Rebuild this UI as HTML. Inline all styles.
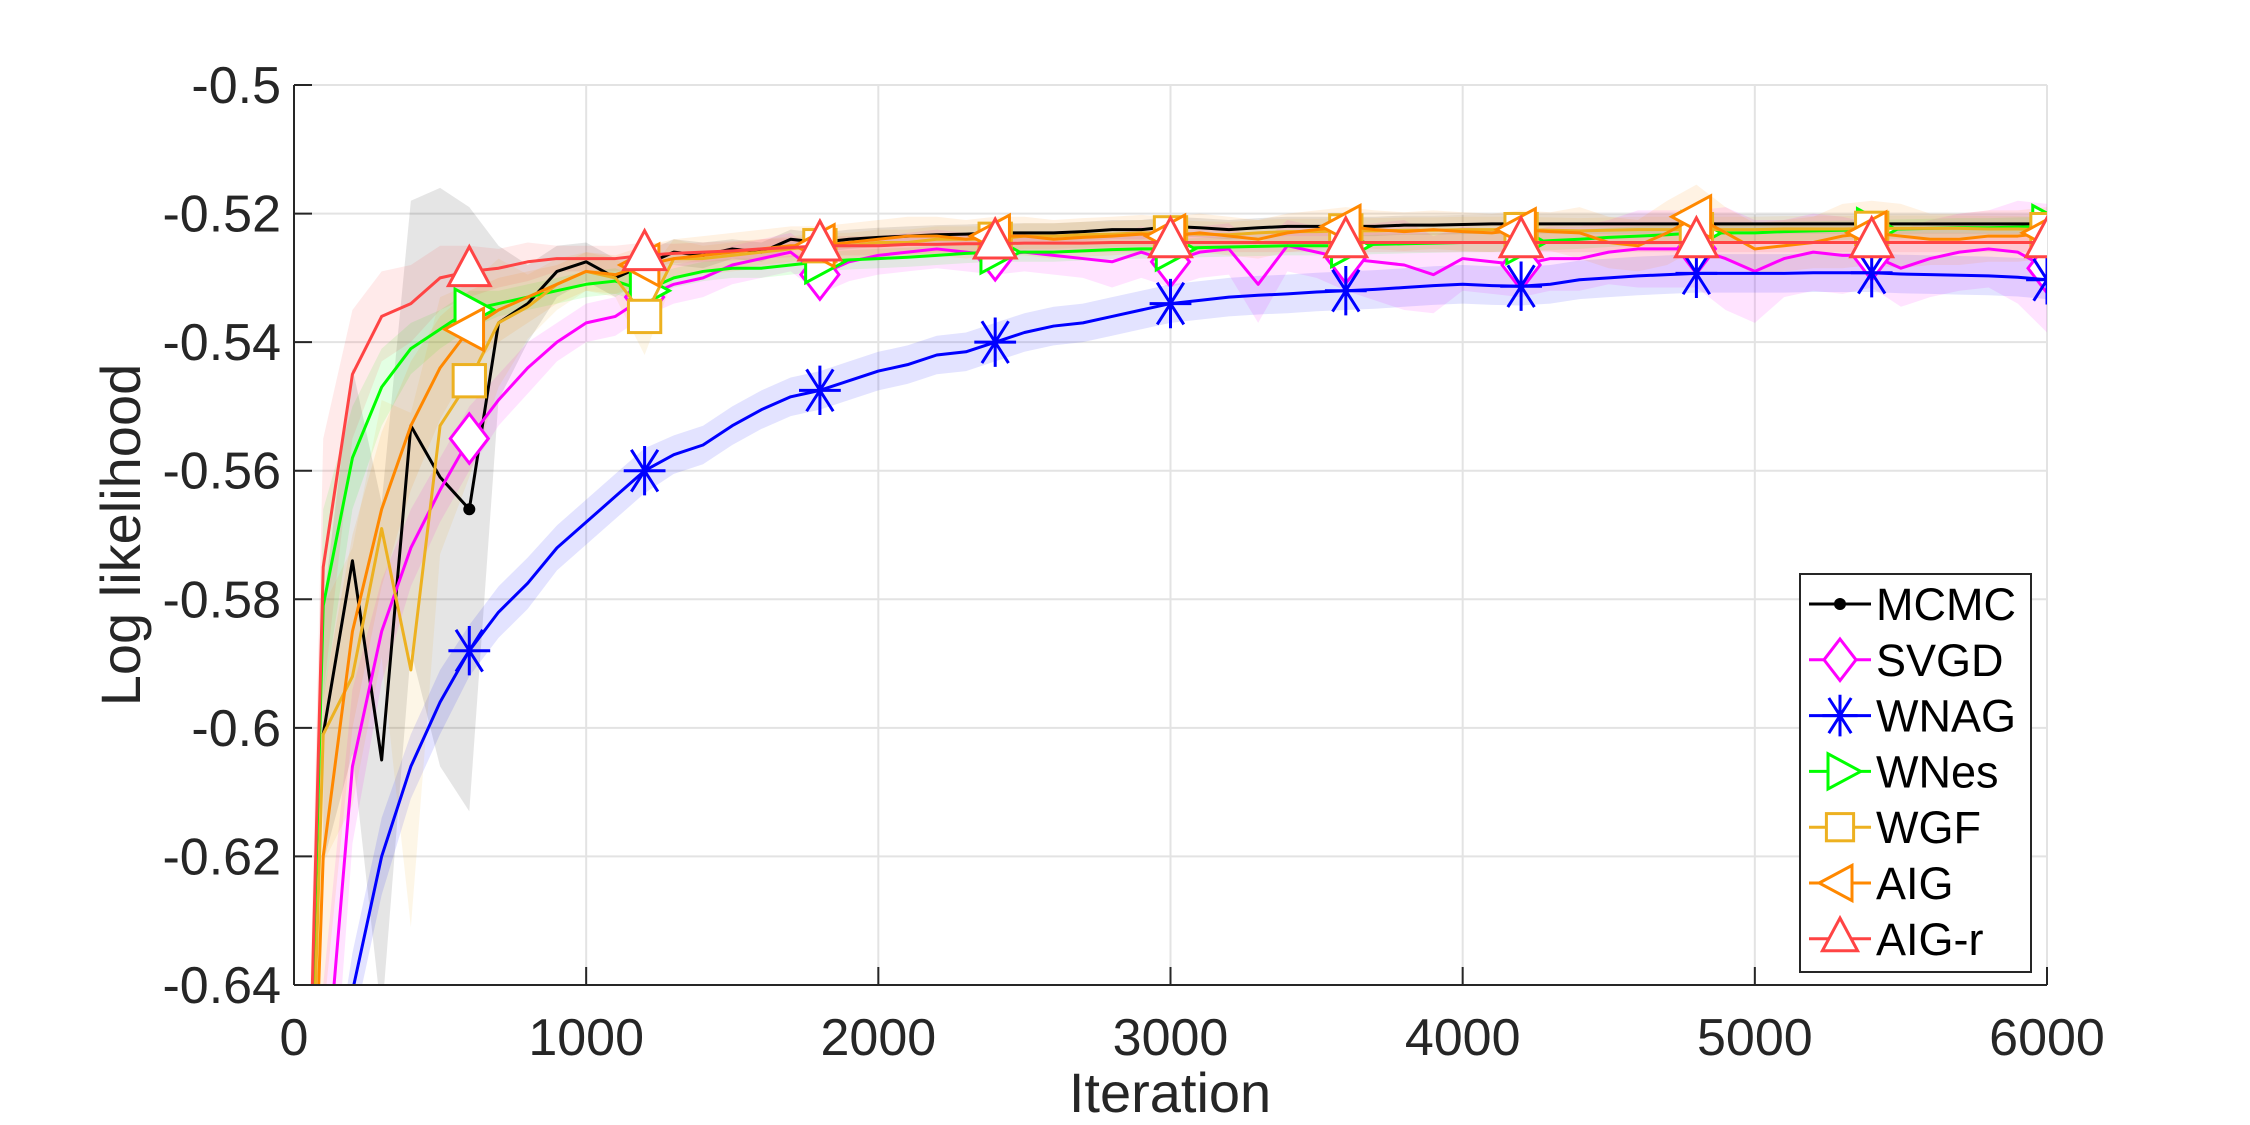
<!DOCTYPE html>
<html><head><meta charset="utf-8"><style>
body{margin:0;background:#fff;overflow:hidden;}
svg{display:block;font-family:"Liberation Sans",Arial,sans-serif;}
</style></head><body>
<svg id="chart" width="2250" height="1125" viewBox="0 0 2250 1125" xmlns="http://www.w3.org/2000/svg">
<rect width="2250" height="1125" fill="#fff"/>
<defs><clipPath id="plotclip"><rect x="294" y="85" width="1753" height="900"/></clipPath></defs>
<g id="grid"></g>
<g id="series" clip-path="url(#plotclip)"></g>
<g id="axes"></g>
<g id="legend"></g>
<text x="1170" y="1112" text-anchor="middle" font-size="56" fill="#262626">Iteration</text>
<text transform="translate(140,535) rotate(-90)" text-anchor="middle" font-size="56" fill="#262626">Log likelihood</text>
</svg>
<script>
const xTicks=[0,1000,2000,3000,4000,5000,6000];
const yTicks=[-0.5,-0.52,-0.54,-0.56,-0.58,-0.6,-0.62,-0.64];
const yTickLabels=["-0.5","-0.52","-0.54","-0.56","-0.58","-0.6","-0.62","-0.64"];
const iterStep=100;
const markerEvery=6;
const seriesNames=["MCMC","SVGD","WNAG","WNes","WGF","AIG","AIG-r"];
const mcmc=[null,-0.601,-0.574,-0.605,-0.553,-0.561,-0.566,-0.537,-0.534,-0.529,-0.5275,-0.530,-0.528,-0.526,-0.5265,-0.5255,-0.526,-0.524,-0.5245,-0.524,-0.5237,-0.5235,-0.5233,-0.5232,-0.523,-0.523,-0.523,-0.5228,-0.5225,-0.5225,-0.522,-0.5222,-0.5225,-0.5222,-0.522,-0.522,-0.522,-0.522,-0.5218,-0.5218,-0.5217,-0.5216,-0.5216,-0.5216,-0.5216,-0.5216,-0.5216,-0.5216,-0.5216,-0.5216,-0.5216,-0.5216,-0.5216,-0.5216,-0.5216,-0.5216,-0.5216,-0.5216,-0.5216,-0.5216,-0.5216];
const mcmcStd=[0,0.02,0.03,0.04,0.035,0.045,0.047,0.012,0.006,0.004,0.003,0.003,0.002,0.002,0.002,0.0015,0.0015,0.0015,0.0015,0.0015,0.0015,0.0015,0.0015,0.0015,0.0015,0.0015,0.0015,0.0015,0.0015,0.0015,0.0015,0.0015,0.0015,0.0015,0.0015,0.0015,0.0015,0.0015,0.0015,0.0015,0.0015,0.0015,0.0015,0.0015,0.0015,0.0015,0.0015,0.0015,0.0015,0.0015,0.0015,0.0015,0.0015,0.0015,0.0015,0.0015,0.0015,0.0015,0.0015,0.0015,0.0015];
const svgd=[-0.75,-0.66,-0.606,-0.585,-0.572,-0.563,-0.555,-0.549,-0.544,-0.540,-0.537,-0.536,-0.533,-0.531,-0.530,-0.528,-0.527,-0.526,-0.5295,-0.5275,-0.5265,-0.526,-0.5255,-0.526,-0.5265,-0.526,-0.5265,-0.527,-0.5275,-0.526,-0.5275,-0.526,-0.5255,-0.531,-0.525,-0.526,-0.527,-0.5275,-0.528,-0.5295,-0.527,-0.5275,-0.528,-0.527,-0.527,-0.526,-0.5255,-0.5255,-0.5255,-0.527,-0.529,-0.527,-0.526,-0.5265,-0.5265,-0.5285,-0.527,-0.526,-0.5255,-0.526,-0.5285];
const svgdStd=[0,0.02,0.012,0.008,0.006,0.005,0.005,0.004,0.004,0.003,0.003,0.003,0.003,0.003,0.003,0.003,0.003,0.003,0.003,0.003,0.003,0.003,0.003,0.003,0.003,0.003,0.003,0.003,0.004,0.004,0.004,0.004,0.004,0.006,0.004,0.004,0.005,0.006,0.007,0.006,0.005,0.005,0.005,0.005,0.005,0.005,0.006,0.006,0.006,0.008,0.008,0.006,0.006,0.006,0.005,0.006,0.006,0.006,0.006,0.008,0.01];
const wnag=[-0.75,-0.67,-0.641,-0.620,-0.606,-0.596,-0.588,-0.582,-0.5775,-0.572,-0.568,-0.564,-0.560,-0.5575,-0.556,-0.553,-0.5505,-0.5485,-0.5475,-0.546,-0.5445,-0.5435,-0.542,-0.5415,-0.540,-0.5385,-0.5375,-0.537,-0.536,-0.535,-0.534,-0.5335,-0.533,-0.5327,-0.5325,-0.5322,-0.532,-0.5318,-0.5315,-0.5312,-0.531,-0.5312,-0.5313,-0.531,-0.5303,-0.530,-0.5297,-0.5295,-0.5293,-0.5293,-0.5293,-0.5293,-0.5292,-0.5292,-0.5292,-0.5294,-0.5295,-0.5296,-0.5297,-0.5299,-0.5303];
const wnagStd=[0,0.006,0.006,0.006,0.005,0.005,0.004,0.004,0.004,0.0035,0.0035,0.0035,0.0035,0.003,0.003,0.003,0.003,0.003,0.003,0.003,0.003,0.003,0.003,0.003,0.003,0.003,0.003,0.003,0.003,0.003,0.003,0.003,0.003,0.003,0.003,0.003,0.003,0.003,0.003,0.003,0.003,0.003,0.003,0.003,0.003,0.003,0.003,0.003,0.003,0.003,0.003,0.003,0.003,0.003,0.003,0.003,0.003,0.003,0.003,0.003,0.003];
const wnes=[-0.75,-0.581,-0.558,-0.547,-0.541,-0.538,-0.535,-0.534,-0.533,-0.532,-0.531,-0.5305,-0.532,-0.530,-0.529,-0.5285,-0.5285,-0.528,-0.5275,-0.5272,-0.527,-0.5268,-0.5265,-0.5262,-0.526,-0.526,-0.526,-0.5258,-0.5256,-0.5255,-0.5255,-0.5253,-0.5252,-0.5251,-0.525,-0.525,-0.525,-0.5248,-0.5247,-0.5246,-0.5245,-0.5245,-0.5245,-0.5242,-0.524,-0.5237,-0.5235,-0.5233,-0.523,-0.523,-0.523,-0.5228,-0.5227,-0.5226,-0.5225,-0.5224,-0.5223,-0.5222,-0.5222,-0.5221,-0.522];
const wnesStd=[0,0.015,0.008,0.006,0.004,0.003,0.003,0.002,0.002,0.002,0.002,0.002,0.002,0.0015,0.0015,0.0015,0.0015,0.0015,0.0015,0.0015,0.0015,0.0015,0.0015,0.0015,0.0015,0.0015,0.0015,0.0015,0.0015,0.0015,0.0015,0.0015,0.0015,0.0015,0.0015,0.0015,0.0015,0.0015,0.0015,0.0015,0.0015,0.0015,0.0015,0.0015,0.0015,0.0015,0.0015,0.0015,0.0015,0.0015,0.0015,0.0015,0.0015,0.0015,0.0015,0.0015,0.0015,0.0015,0.0015,0.0015,0.0015];
const wgf=[-0.75,-0.601,-0.592,-0.569,-0.591,-0.553,-0.546,-0.537,-0.5345,-0.531,-0.529,-0.530,-0.536,-0.527,-0.527,-0.5265,-0.526,-0.5255,-0.525,-0.525,-0.5245,-0.5245,-0.524,-0.524,-0.524,-0.5235,-0.5235,-0.5233,-0.5232,-0.523,-0.523,-0.5232,-0.5233,-0.523,-0.5228,-0.5228,-0.5227,-0.5227,-0.5226,-0.5226,-0.5225,-0.5225,-0.5225,-0.5226,-0.5227,-0.5226,-0.5225,-0.5225,-0.5225,-0.5225,-0.5225,-0.5224,-0.5224,-0.5224,-0.5223,-0.5223,-0.5223,-0.5223,-0.5224,-0.5224,-0.5225];
const wgfStd=[0,0.02,0.02,0.02,0.04,0.02,0.015,0.01,0.005,0.004,0.003,0.003,0.006,0.003,0.002,0.002,0.002,0.002,0.002,0.002,0.002,0.002,0.002,0.002,0.002,0.002,0.002,0.002,0.002,0.002,0.002,0.002,0.002,0.002,0.002,0.002,0.002,0.002,0.002,0.002,0.002,0.002,0.002,0.002,0.002,0.002,0.002,0.002,0.002,0.002,0.002,0.002,0.002,0.002,0.002,0.002,0.002,0.002,0.002,0.002,0.002];
const aig=[-0.75,-0.62,-0.585,-0.566,-0.553,-0.544,-0.538,-0.535,-0.533,-0.531,-0.529,-0.5295,-0.528,-0.527,-0.5265,-0.526,-0.5255,-0.525,-0.525,-0.5245,-0.524,-0.5235,-0.5235,-0.524,-0.5235,-0.5235,-0.524,-0.5237,-0.5235,-0.5232,-0.5235,-0.523,-0.5235,-0.524,-0.523,-0.5225,-0.522,-0.5225,-0.5228,-0.5225,-0.5228,-0.523,-0.5225,-0.5228,-0.523,-0.5245,-0.525,-0.523,-0.5205,-0.523,-0.5255,-0.525,-0.5245,-0.5235,-0.523,-0.5235,-0.524,-0.524,-0.5235,-0.5235,-0.523];
const aigStd=[0,0.025,0.015,0.012,0.01,0.008,0.006,0.005,0.004,0.003,0.003,0.003,0.003,0.003,0.003,0.003,0.003,0.003,0.003,0.003,0.003,0.003,0.003,0.003,0.003,0.003,0.003,0.003,0.003,0.003,0.003,0.003,0.003,0.003,0.003,0.003,0.003,0.003,0.003,0.003,0.003,0.003,0.003,0.003,0.004,0.004,0.004,0.005,0.005,0.004,0.004,0.004,0.004,0.005,0.005,0.005,0.004,0.004,0.004,0.004,0.004];
const aigr=[-0.75,-0.575,-0.545,-0.536,-0.534,-0.530,-0.529,-0.5285,-0.5275,-0.527,-0.527,-0.527,-0.5265,-0.5262,-0.526,-0.5258,-0.5255,-0.5253,-0.525,-0.525,-0.525,-0.5248,-0.5248,-0.5247,-0.5247,-0.5246,-0.5246,-0.5246,-0.5245,-0.5245,-0.5245,-0.5245,-0.5245,-0.5245,-0.5245,-0.5245,-0.5245,-0.5245,-0.5245,-0.5245,-0.5245,-0.5245,-0.5245,-0.5245,-0.5245,-0.5245,-0.5245,-0.5245,-0.5245,-0.5245,-0.5245,-0.5245,-0.5245,-0.5245,-0.5245,-0.5245,-0.5245,-0.5245,-0.5245,-0.5245,-0.5245];
const aigrStd=[0,0.02,0.01,0.007,0.006,0.005,0.004,0.003,0.003,0.002,0.002,0.002,0.002,0.0015,0.0015,0.0015,0.0015,0.0015,0.0015,0.0015,0.0015,0.0015,0.0015,0.0015,0.0015,0.0015,0.0015,0.0015,0.0015,0.0015,0.0015,0.0015,0.0015,0.0015,0.0015,0.0015,0.0015,0.0015,0.0015,0.0015,0.0015,0.0015,0.0015,0.0015,0.0015,0.0015,0.0015,0.0015,0.0015,0.0015,0.0015,0.0015,0.0015,0.0015,0.0015,0.0015,0.0015,0.0015,0.0015,0.0015,0.0015];

const X0=294,X1=2047,Y0=85,Y1=985,XMIN=0,XMAX=6000,YMIN=-0.64,YMAX=-0.5;
function xs(v){return X0+(v-XMIN)/(XMAX-XMIN)*(X1-X0);}
function ys(v){return Y1-(v-YMIN)/(YMAX-YMIN)*(Y1-Y0);}
const NS="http://www.w3.org/2000/svg";
function mk(tag,attrs,parent){const e=document.createElementNS(NS,tag);for(const k in attrs)e.setAttribute(k,attrs[k]);parent.appendChild(e);return e;}
const grid=document.getElementById('grid'),axes=document.getElementById('axes'),ser=document.getElementById('series'),leg=document.getElementById('legend');

xTicks.forEach((t,i)=>{
  const g=mk('line',{x1:xs(t),x2:xs(t),y1:Y0,y2:Y1,stroke:'#e3e3e3','stroke-width':2},grid);
  
  
  const tk=mk('line',{x1:xs(t),x2:xs(t),y1:Y1,y2:Y1-18,stroke:'#262626','stroke-width':2},axes);
  
  
  const tx=mk('text',{x:xs(t),y:1055,'text-anchor':'middle','font-size':52,fill:'#262626'},axes);
  tx.textContent=String(t);
  
  
});
yTicks.forEach((t,i)=>{
  const g=mk('line',{x1:X0,x2:X1,y1:ys(t),y2:ys(t),stroke:'#e3e3e3','stroke-width':2},grid);
  
  
  const tk=mk('line',{x1:X0,x2:X0+18,y1:ys(t),y2:ys(t),stroke:'#262626','stroke-width':2},axes);
  
  
  const tx=mk('text',{x:281,y:ys(t)+18,'text-anchor':'end','font-size':52,fill:'#262626'},axes);
  tx.textContent=yTickLabels[i];
  
  
});
const ax1=mk('line',{x1:X0,x2:X0,y1:Y0,y2:Y1,stroke:'#262626','stroke-width':2},axes);


const ax2=mk('line',{x1:X0,x2:X1,y1:Y1,y2:Y1,stroke:'#262626','stroke-width':2},axes);



const allVals=[mcmc,svgd,wnag,wnes,wgf,aig,aigr];
const allStd=[mcmcStd,svgdStd,wnagStd,wnesStd,wgfStd,aigStd,aigrStd];
const colors=['#000000','#FF00FF','#0000FF','#00FF00','#EDB120','#FF8800','#FF4444'];
const markers=['dot','diamond','star','right','square','left','up'];

function marker(type,cx,cy,color,parent,s){
  s=s||19;let e;
  if(type==='dot'){e=mk('circle',{cx:cx,cy:cy,r:6,fill:color},parent);}
  else if(type==='diamond'){e=mk('polygon',{points:`${cx},${cy-s*1.3} ${cx+s},${cy} ${cx},${cy+s*1.3} ${cx-s},${cy}`,fill:'#fff',stroke:color,'stroke-width':3},parent);}
  else if(type==='square'){e=mk('rect',{x:cx-s*0.85,y:cy-s*0.85,width:s*1.7,height:s*1.7,fill:'#fff',stroke:color,'stroke-width':3},parent);}
  else if(type==='up'){e=mk('polygon',{points:`${cx},${cy-s*1.3} ${cx+s*1.1},${cy+s*0.75} ${cx-s*1.1},${cy+s*0.75}`,fill:'#fff',stroke:color,'stroke-width':3},parent);}
  else if(type==='right'){e=mk('polygon',{points:`${cx+s*1.3},${cy} ${cx-s*0.75},${cy-s*1.1} ${cx-s*0.75},${cy+s*1.1}`,fill:'#fff',stroke:color,'stroke-width':3},parent);}
  else if(type==='left'){e=mk('polygon',{points:`${cx-s*1.3},${cy} ${cx+s*0.75},${cy-s*1.1} ${cx+s*0.75},${cy+s*1.1}`,fill:'#fff',stroke:color,'stroke-width':3},parent);}
  else if(type==='star'){e=mk('path',{d:`M${cx-s*1.1},${cy}H${cx+s*1.1}M${cx},${cy-s*1.3}V${cy+s*1.3}M${cx-s*0.7},${cy-s*1.1}L${cx+s*0.7},${cy+s*1.1}M${cx+s*0.7},${cy-s*1.1}L${cx-s*0.7},${cy+s*1.1}`,fill:'none',stroke:color,'stroke-width':3},parent);}
  return e;
}

allVals.forEach((vals,si)=>{
  const std=allStd[si];const up=[],lo=[];
  vals.forEach((v,i)=>{if(v===null)return;up.push(xs(i*iterStep)+','+ys(v+std[i]));lo.unshift(xs(i*iterStep)+','+ys(v-std[i]));});
  const b=mk('polygon',{points:up.concat(lo).join(' '),fill:colors[si],'fill-opacity':si===0?0.1:0.11,stroke:'none'},ser);
  
  
});
allVals.forEach((vals,si)=>{
  const pts=[];vals.forEach((v,i)=>{if(v!==null)pts.push(xs(i*iterStep)+','+ys(v));});
  const l=mk('polyline',{points:pts.join(' '),fill:'none',stroke:colors[si],'stroke-width':3,'stroke-linejoin':'round'},ser);
  
  
  vals.forEach((v,i)=>{
    if(v===null||i===0||i%markerEvery!==0)return;
    const m=marker(markers[si],xs(i*iterStep),ys(v),colors[si],ser);
    
    
  });
});

const LX=1800,LY=574,LW=231,LH=398;
const box=mk('rect',{x:LX,y:LY,width:LW,height:LH,fill:'#fff',stroke:'#262626','stroke-width':2},leg);


seriesNames.forEach((n,i)=>{
  const cy=LY+30+i*55.8;
  const g=mk('g',{},leg);
  
  
  mk('line',{x1:LX+9,x2:LX+71,y1:cy,y2:cy,stroke:colors[i],'stroke-width':3},g);
  marker(markers[i],LX+40,cy,colors[i],g,16);
  const t=mk('text',{x:LX+76,y:cy+16,'font-size':45,fill:'#000'},g);
  t.textContent=n;
});
</script>
</body></html>
